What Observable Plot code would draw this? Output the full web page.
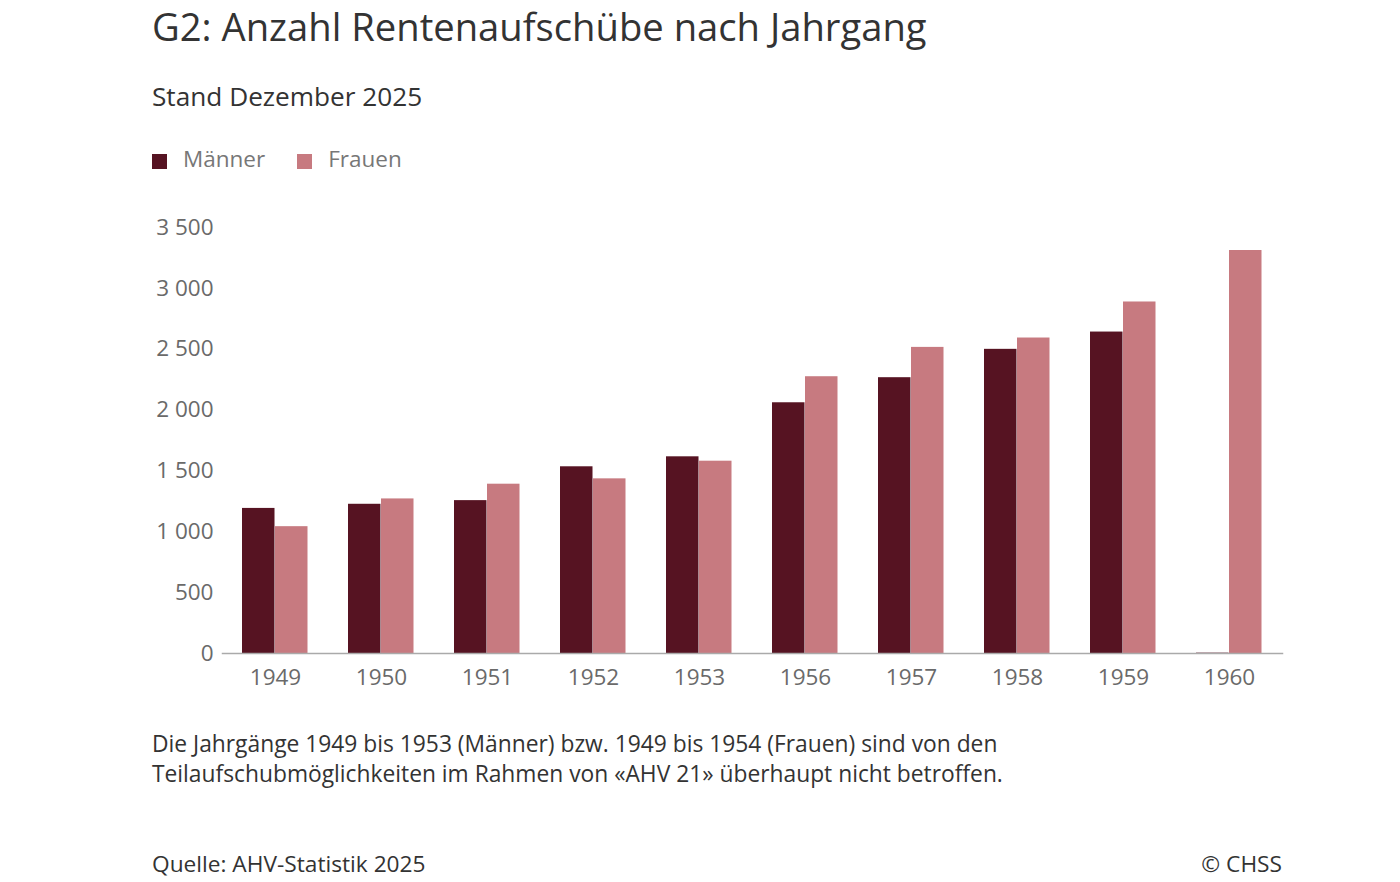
<!DOCTYPE html>
<html>
<head>
<meta charset="utf-8">
<script src="https://cdn.jsdelivr.net/npm/d3@7"></script>
<script src="https://cdn.jsdelivr.net/npm/@observablehq/plot@0.6"></script>
<style>
  html, body { margin: 0; padding: 0; background: #fff; }
  body { width: 1400px; height: 882px; position: relative; overflow: hidden; font-family: "Open Sans", sans-serif; }
  .abs { position: absolute; left: 152px; white-space: nowrap; }
  #title { top: 4px; font-size: 38.2px; line-height: 44px; color: #333; }
  #subtitle { top: 78px; font-size: 26.2px; line-height: 36px; color: #333; }
  #legend { top: 143px; font-size: 22.5px; line-height: 32px; color: #777; display: flex; gap: 32px; }
  #legend .item { display: flex; align-items: center; }
  #legend .sw { width: 15px; height: 15px; margin-right: 16px; margin-top: 4px; }
  #chart { position: absolute; left: 0; top: 200px; }
  #note { top: 729px; font-size: 22.8px; line-height: 30px; color: #333; }
  #source { top: 849px; font-size: 22.7px; line-height: 30px; color: #333; }
  #copy { position: absolute; top: 849px; right: 118px; font-size: 22.7px; line-height: 30px; color: #333; }
</style>
</head>
<body>
<div id="title" class="abs">G2: Anzahl Rentenaufschübe nach Jahrgang</div>
<div id="subtitle" class="abs">Stand Dezember 2025</div>
<div id="legend" class="abs"></div>
<div id="chart"></div>
<div id="note" class="abs">Die Jahrgänge 1949 bis 1953 (Männer) bzw. 1949 bis 1954 (Frauen) sind von den<br>Teilaufschubmöglichkeiten im Rahmen von «AHV 21» überhaupt nicht betroffen.</div>
<div id="source" class="abs">Quelle: AHV-Statistik 2025</div>
<div id="copy">© CHSS</div>
<script>
const years = ["1949","1950","1951","1952","1953","1956","1957","1958","1959","1960"];
const sexes = ["Männer","Frauen"];
const maenner = [1192, 1226, 1256, 1534, 1616, 2060, 2266, 2499, 2641, 3];
const frauen  = [1042, 1270, 1391, 1435, 1580, 2274, 2515, 2592, 2888, 3311];
const colors = ["#561322", "#c77a80"];
const yTicks = [0, 500, 1000, 1500, 2000, 2500, 3000, 3500];

const data = [];
years.forEach((y, i) => {
  data.push({year: y, sex: sexes[0], value: maenner[i]});
  data.push({year: y, sex: sexes[1], value: frauen[i]});
});

// legend
const legend = document.getElementById("legend");
sexes.forEach((s, i) => {
  const it = document.createElement("div");
  it.className = "item";
  const sw = document.createElement("span");
  sw.className = "sw";
  sw.style.background = colors[i];
  it.appendChild(sw);
  it.appendChild(document.createTextNode(s));
  legend.appendChild(it);
});

const fmt = d => d3.format(",")(d).replace(/,/g, " ");

const plot = Plot.plot({
  width: 1400,
  height: 498,
  marginLeft: 221,
  marginRight: 118,
  marginTop: 27,
  marginBottom: 45,
  style: {fontFamily: "Open Sans, sans-serif", fontSize: "22.5px", color: "#6a6a6a", background: "#fff"},
  fx: {domain: years, paddingInner: 0.38, paddingOuter: 0.19, label: null, axis: "bottom", tickSize: 0, tickPadding: 16},
  x: {domain: sexes, padding: 0, axis: null},
  y: {domain: [0, 3500], ticks: yTicks, tickFormat: fmt, label: null, tickSize: 0, tickPadding: 29},
  color: {domain: sexes, range: colors},
  marks: [
    Plot.barY(data, {fx: "year", x: "sex", y: "value", fill: "sex", insetRight: 0.5}),
    Plot.frame({anchor: "bottom", facet: "super", stroke: "#aaa", strokeWidth: 1.5, insetLeft: -20, insetRight: -20})
  ]
});
document.getElementById("chart").appendChild(plot);
</script>
</body>
</html>
